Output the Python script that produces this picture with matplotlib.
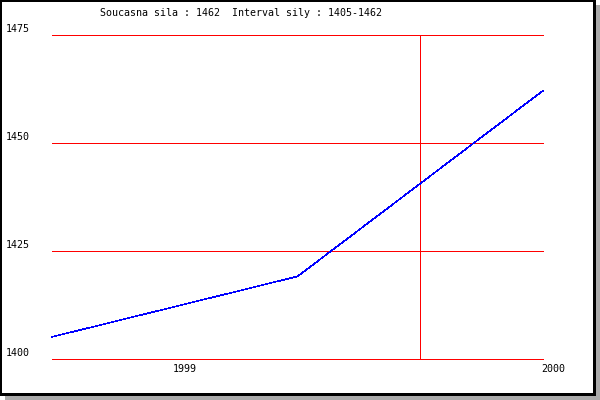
import matplotlib
matplotlib.use("Agg")
import matplotlib.pyplot as plt
from matplotlib.patches import Rectangle
from matplotlib import transforms

# Data
x_pos = [0, 1, 2]
values = [1405, 1419, 1462]
y_ticks = [1400, 1425, 1450, 1475]
x_tick_pos = [0.54, 2.04]
x_tick_labels = ["1999", "2000"]
marker_x = 1.5
title = "Soucasna sila : 1462  Interval sily : 1405-1462"

W, H = 600, 400
fig = plt.figure(figsize=(6, 4), dpi=100, facecolor="white")

def frect(x0, y0, x1, y1, color):
    # pixel coords, top-down
    fig.patches.append(Rectangle((x0 / W, 1 - y1 / H), (x1 - x0) / W, (y1 - y0) / H,
                                 transform=fig.transFigure, facecolor=color,
                                 edgecolor="none", zorder=-10, antialiased=False))

frect(5, 5, 600, 400, "#aaaaaa")
frect(0, 0, 596, 396, "black")
frect(2, 2, 593, 393, "white")

ax = fig.add_axes([52 / W, 1 - 358.5 / H, (543 - 52) / W, (358.5 - 34.5) / H])
ax.set_facecolor("none")
for s in ax.spines.values():
    s.set_visible(False)
ax.set_xlim(0, 2)
ax.set_ylim(1400, 1475)
ax.set_xticks([])
ax.set_yticks([])

LW = 0.72
for yv in y_ticks:
    ax.axhline(yv, color="#ff0000", lw=LW, antialiased=False, zorder=1, clip_on=False)
ax.axvline(marker_x, color="#ff0000", lw=LW, antialiased=False, zorder=2)
ax.plot(x_pos, values, color="#0000ff", lw=0.4, antialiased=False, zorder=3, clip_on=False)

font = dict(family="DejaVu Sans Mono", fontsize=7.2, color="black")
blend = transforms.blended_transform_factory(ax.transAxes, ax.transData)
ylab_tr = transforms.offset_copy(blend, fig=fig, x=0, y=6, units="dots")
for yv in y_ticks:
    ax.text((6 - 52) / 491, yv, str(yv), transform=ylab_tr, ha="left", va="center", **font)

blend2 = transforms.blended_transform_factory(ax.transData, ax.transAxes)
xlab_tr = transforms.offset_copy(blend2, fig=fig, x=0, y=-10, units="dots")
for xp, lab in zip(x_tick_pos, x_tick_labels):
    ax.text(xp, 0, lab, transform=xlab_tr, ha="center", va="center", **font)

fig.text(100 / W, 1 - 13 / H, title, ha="left", va="center", **font)

fig.savefig("out.png", dpi=100, facecolor="white")
